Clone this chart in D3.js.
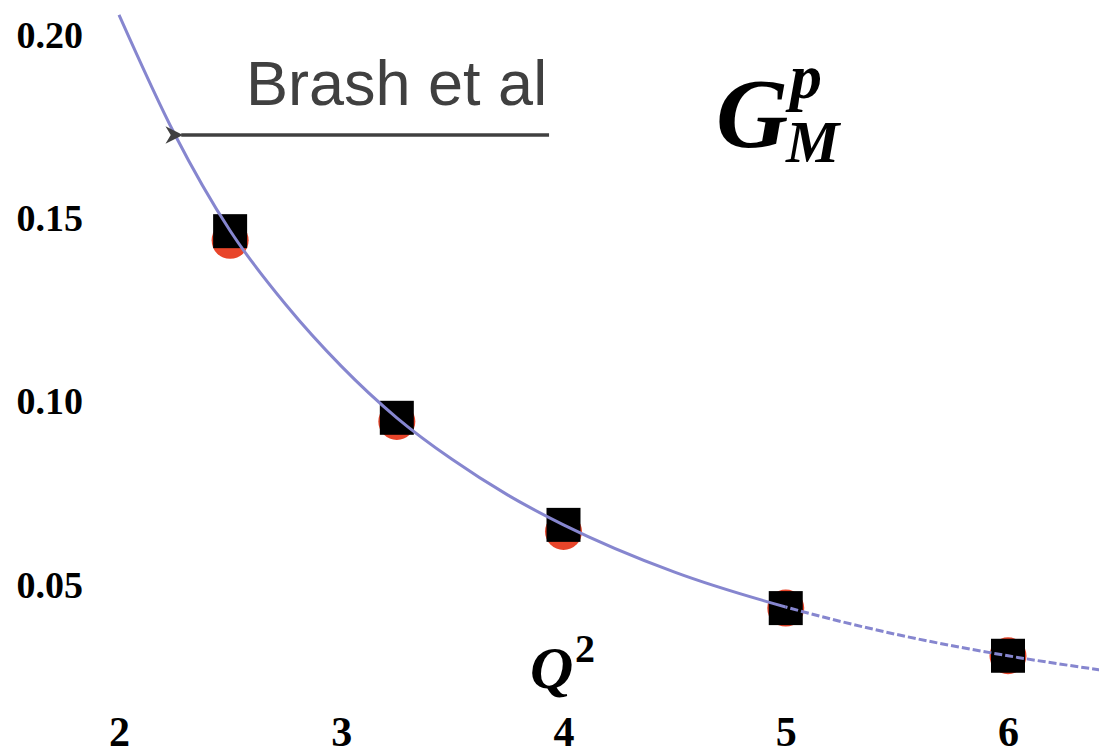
<!DOCTYPE html>
<html>
<head>
<meta charset="utf-8">
<script src="https://cdn.jsdelivr.net/npm/d3@7"></script>
<style>
  html, body { margin: 0; padding: 0; background: #fff; }
  svg { display: block; }
</style>
</head>
<body>
<svg id="chart" width="1099" height="754"></svg>
<script>
// ---- data ----
const xTicks = [2, 3, 4, 5, 6];
const yTicks = [0.05, 0.10, 0.15, 0.20];

// measured points (black squares) and second data set (red circles)
const pointQ2 = [2.5, 3.25, 4.0, 5.0, 6.0];
const squareG = [0.1465, 0.0956, 0.0664, 0.0437, 0.0307];
const circleG = [0.1440, 0.0946, 0.0646, 0.0437, 0.0307];

// Brash et al fit curve
const curveQ2 = [2.0, 2.25, 2.5, 2.75, 3.0, 3.25, 3.5, 3.75, 4.0, 4.5, 5.0, 5.5, 6.0, 6.42];
const curveG  = [0.2055, 0.1730, 0.1466, 0.1265, 0.1097, 0.0956, 0.0842, 0.0745, 0.0664, 0.0535, 0.0440, 0.0365, 0.0307, 0.0268];

// annotation arrow (data coords): from -> to
const arrowFrom = [3.935, 0.1727];
const arrowTo   = [2.28, 0.1727];

// ---- scales ----
const svg = d3.select("#chart");
const x = d3.scaleLinear().domain([2, 6]).range([119, 1008]);
const y = d3.scaleLinear().domain([0.05, 0.20]).range([585, 35]);

// ---- axes (labels only) ----
const yAxis = svg.append("g")
  .attr("transform", "translate(86,0)")
  .call(d3.axisLeft(y).tickValues(yTicks).tickFormat(d3.format(".2f")).tickSize(0).tickPadding(3));
yAxis.select(".domain").remove();
yAxis.selectAll("text")
  .attr("font-family", "'Liberation Serif', 'Times New Roman', serif")
  .attr("font-weight", "bold")
  .attr("font-size", 38)
  .attr("fill", "#000");

const xAxis = svg.append("g")
  .attr("transform", "translate(0,746)")
  .call(d3.axisBottom(x).tickValues(xTicks).tickFormat(d3.format("d")).tickSize(0).tickPadding(0));
xAxis.select(".domain").remove();
xAxis.selectAll("text")
  .attr("y", 0)
  .attr("dy", 0)
  .attr("font-family", "'Liberation Serif', 'Times New Roman', serif")
  .attr("font-weight", "bold")
  .attr("font-size", 42)
  .attr("fill", "#000");

// ---- markers ----
const pts = pointQ2.map((q, i) => ({ q, s: squareG[i], c: circleG[i] }));
svg.append("g").selectAll("circle").data(pts).join("circle")
  .attr("cx", d => x(d.q))
  .attr("cy", d => y(d.c))
  .attr("r", 18.5)
  .attr("fill", "#e8452a");

const sq = 34;
svg.append("g").selectAll("rect").data(pts).join("rect")
  .attr("x", d => x(d.q) - sq / 2)
  .attr("y", d => y(d.s) - sq / 2)
  .attr("width", sq)
  .attr("height", sq)
  .attr("fill", "#000");

// ---- curve ----
const curveData = curveQ2.map((q, i) => [q, curveG[i]]);
const line = d3.line().x(d => x(d[0])).y(d => y(d[1])).curve(d3.curveMonotoneX);
const defs = svg.append("defs");
defs.append("clipPath").attr("id", "clipSolid")
  .append("rect").attr("x", 0).attr("y", 0).attr("width", x(5.0)).attr("height", 754);
defs.append("clipPath").attr("id", "clipDash")
  .append("rect").attr("x", x(5.0)).attr("y", 0).attr("width", 1099 - x(5.0)).attr("height", 754);

svg.append("path").datum(curveData)
  .attr("d", line)
  .attr("fill", "none")
  .attr("stroke", "#8686cf")
  .attr("stroke-width", 3)
  .attr("clip-path", "url(#clipSolid)");
svg.append("path").datum(curveData)
  .attr("d", line)
  .attr("fill", "none")
  .attr("stroke", "#8686cf")
  .attr("stroke-width", 3)
  .attr("stroke-dasharray", "8,3")
  .attr("clip-path", "url(#clipDash)");

// ---- annotation ----
defs.append("marker").attr("id", "arrowHead")
  .attr("viewBox", "0 0 10 10")
  .attr("refX", 1).attr("refY", 5)
  .attr("markerWidth", 5).attr("markerHeight", 5)
  .attr("orient", "auto-start-reverse")
  .attr("markerUnits", "strokeWidth")
  .append("path")
  .attr("d", "M0,5 L10,0 L7,5 L10,10 Z")
  .attr("fill", "#404040");

svg.append("line")
  .attr("x1", x(arrowFrom[0])).attr("y1", y(arrowFrom[1]))
  .attr("x2", x(arrowTo[0])).attr("y2", y(arrowTo[1]))
  .attr("stroke", "#404040")
  .attr("stroke-width", 3.5)
  .attr("marker-end", "url(#arrowHead)");

svg.append("text")
  .attr("x", 246).attr("y", 105)
  .attr("font-family", "'Liberation Sans', Arial, sans-serif")
  .attr("font-size", 63)
  .attr("fill", "#404040")
  .text("Brash et al");

// G_M^p label
const serif = "'Liberation Serif', 'Times New Roman', serif";
const gLab = svg.append("g")
  .attr("font-family", serif)
  .attr("font-weight", "bold")
  .attr("font-style", "italic")
  .attr("fill", "#000");
gLab.append("text").attr("x", 716).attr("y", 147).attr("font-size", 100).text("G");
gLab.append("text").attr("x", 790).attr("y", 98).attr("font-size", 64).text("p");
gLab.append("text").attr("x", 786).attr("y", 162).attr("font-size", 60).text("M");

// Q^2 label
const qLab = svg.append("g")
  .attr("font-family", serif)
  .attr("font-weight", "bold")
  .attr("font-style", "italic")
  .attr("fill", "#000");
qLab.append("text").attr("x", 530).attr("y", 688).attr("font-size", 60).text("Q");
qLab.append("text").attr("x", 575).attr("y", 662).attr("font-size", 40).attr("font-style", "normal").text("2");
</script>
</body>
</html>
